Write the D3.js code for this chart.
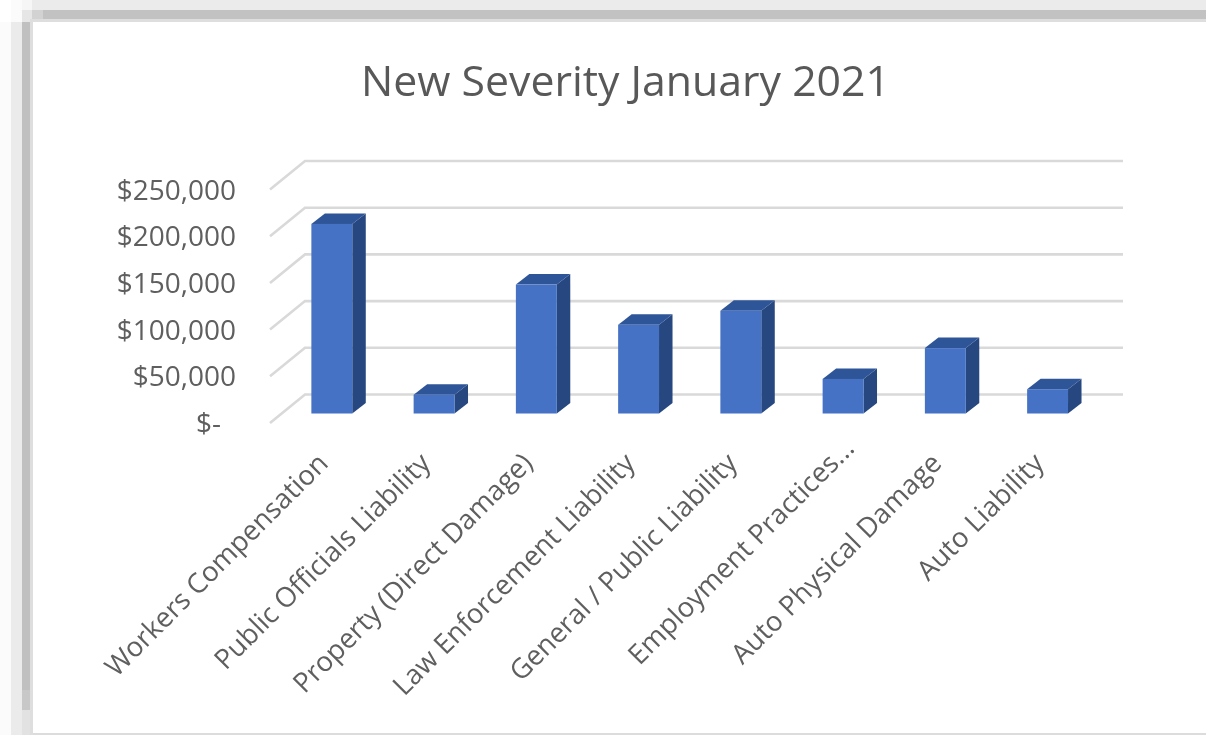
<!DOCTYPE html>
<html><head><meta charset="utf-8">
<script src="https://cdnjs.cloudflare.com/ajax/libs/d3/7.8.5/d3.min.js"></script>
<style>html,body{margin:0;padding:0;background:#fff;overflow:hidden}svg{display:block}</style>
</head><body><svg id="c" width="1206" height="735"></svg>
<script>
const categories = ["Workers Compensation","Public Officials Liability","Property (Direct Damage)","Law Enforcement Liability","General / Public Liability","Employment Practices...","Auto Physical Damage","Auto Liability"];
const severity = [203000,20000,138000,95000,110000,37000,70000,26000];
const tickValues = [0,50000,100000,150000,200000,250000];
const tickLabels = ["$-","$50,000","$100,000","$150,000","$200,000","$250,000"];
const chartTitle = "New Severity January 2021";

const svg = d3.select("#c");
const font = "'Open Sans', sans-serif";
const textColor = "#5f5f5f";

// window frame / shadow
const frame = svg.append("g");
[[22,0,1184,10,"#ebebeb"],[11,22,11,713,"#ebebeb"],[0,22,11,713,"#fbfbfb"],
 [11,0,11,22,"#fbfbfb"],[22,0,10,10,"#f6f6f6"],
 [22,10,10,12,"#e6e6e6"],[32,10,11,9,"#d2d2d2"],[43,10,1163,9,"#c2c2c2"],
 [22,22,8,668,"#c0c0c0"],[22,690,8,20,"#c8c8c8"],[22,710,8,25,"#e2e2e2"],
 [30,19,3,716,"#dedede"],[30,19,1176,3,"#dedede"],[33,733,1173,2,"#dcdcdc"]]
 .forEach(r=>frame.append("rect").attr("x",r[0]).attr("y",r[1]).attr("width",r[2]).attr("height",r[3]).attr("fill",r[4]));

svg.append("defs").append("filter").attr("id","soft")
  .attr("x",0).attr("y",0).attr("width",1206).attr("height",735).attr("filterUnits","userSpaceOnUse")
  .append("feGaussianBlur").attr("stdDeviation",0.7);
const plot = svg.append("g").attr("filter","url(#soft)");

// oblique projection: front floor edge -> back wall
const depth = {dx:35, dy:-28.5};
const x = d3.scaleBand().domain(categories).range([270,1088]).paddingInner(0.6).paddingOuter(0.3);
const y = d3.scaleLinear().domain([0,250000]).range([423,189.5]);
const barDepth = {dx:13.5, dy:-10.5};
const barOff = {dx:10.7, dy:-9.5};

// gridlines
tickValues.forEach(v=>{
  plot.append("path")
    .attr("d",`M270,${y(v)}L${270+depth.dx},${y(v)+depth.dy}L${1088+depth.dx},${y(v)+depth.dy}`)
    .attr("fill","none").attr("stroke","#d9d9d9").attr("stroke-width",2.6);
});

// bars
const bars = plot.selectAll("g.bar").data(categories.map((c,i)=>({c,v:severity[i]}))).join("g").attr("class","bar");
const bw = x.bandwidth();
bars.each(function(d){
  const g=d3.select(this);
  const x0=x(d.c)+barOff.dx, x1=x0+bw;
  const yb=y(0)+barOff.dy, yt=y(d.v)+barOff.dy;
  const dx=barDepth.dx, dy=barDepth.dy;
  g.append("path").attr("d",`M${x1},${yb}L${x1+dx},${yb+dy}L${x1+dx},${yt+dy}L${x1},${yt}Z`).attr("fill","#27467f");
  g.append("path").attr("d",`M${x0},${yt}L${x0+dx},${yt+dy}L${x1+dx},${yt+dy}L${x1},${yt}Z`).attr("fill","#2f5597");
  g.append("rect").attr("x",x0).attr("y",yt).attr("width",bw).attr("height",yb-yt).attr("fill","#4472c4");
});

// value axis labels (accounting format leaves a gap after "$-")
tickValues.forEach((v,i)=>{
  plot.append("text").attr("x",v===0?221:236).attr("y",y(v)+10).attr("text-anchor","end")
    .attr("font-family",font).attr("font-size",28).attr("fill",textColor).text(tickLabels[i]);
});

// category labels (the truncated label sits a little further up its own line)
categories.forEach(c=>{
  const shift = c.endsWith("...") ? 15 : 0;
  const px=x(c)+bw/2+barOff.dx-9+shift, py=458-shift;
  plot.append("text").attr("transform",`translate(${px},${py}) rotate(-45)`)
    .attr("text-anchor","end").attr("dy","0.35em")
    .attr("font-family",font).attr("font-size",27.5).attr("fill",textColor).text(c);
});

plot.append("text").attr("x",625.5).attr("y",96).attr("text-anchor","middle")
  .attr("font-family",font).attr("font-size",42.8).attr("fill","#595959").text(chartTitle);
</script></body></html>
